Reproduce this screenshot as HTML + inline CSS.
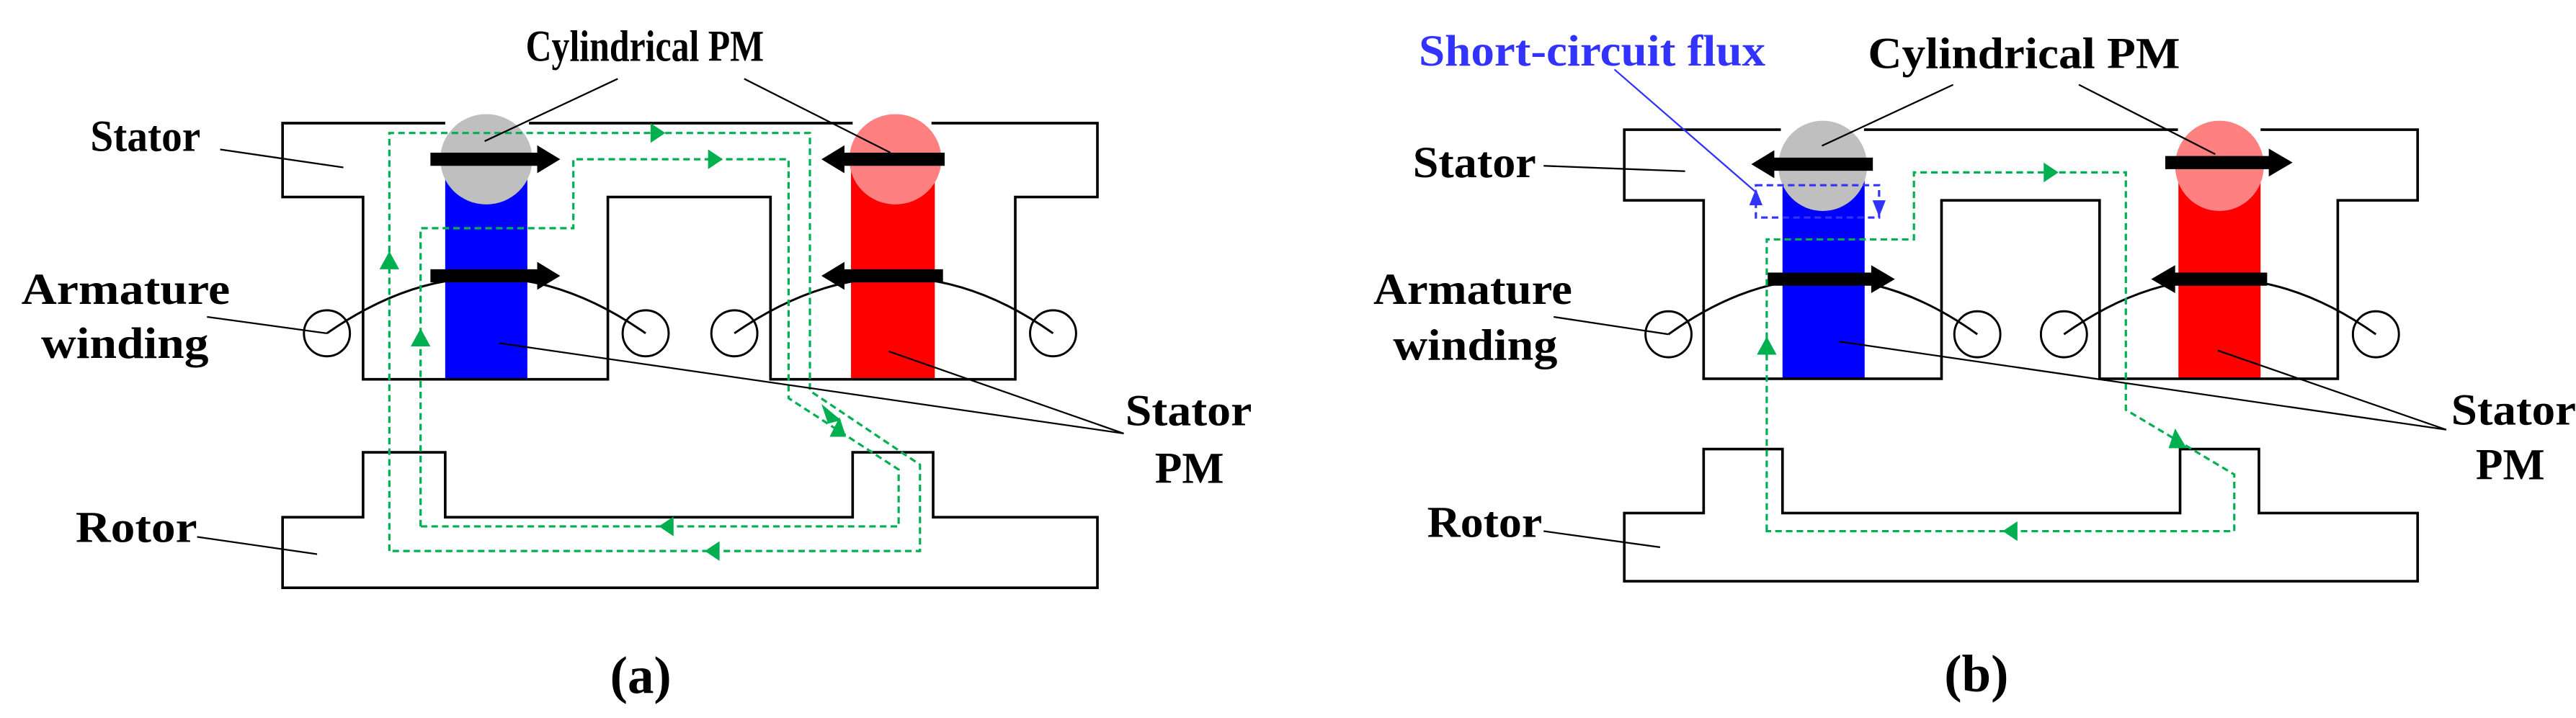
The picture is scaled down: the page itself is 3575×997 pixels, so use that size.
<!DOCTYPE html>
<html><head><meta charset="utf-8"><style>
html,body{margin:0;padding:0;background:#fff;}
svg{display:block;}
text{font-family:"Liberation Serif",serif;font-weight:bold;}
</style></head><body>
<svg width="3575" height="997" viewBox="0 0 1568 437.3" preserveAspectRatio="none" xmlns="http://www.w3.org/2000/svg">
<!-- ================= PANEL A ================= -->
<g>
<rect x="271" y="97" width="50" height="134" fill="#0000ff"/>
<rect x="518" y="97" width="51" height="134" fill="#ff0000"/>
<ellipse cx="296" cy="97" rx="28" ry="27.5" fill="#bfbfbf"/>
<ellipse cx="545" cy="97" rx="28" ry="27.5" fill="#ff8080"/>
<path d="M271,75 H172 V120 H221 V231 H370 V120 H469 V231 H618 V120 H668 V75 H567 M519,75 H322" fill="none" stroke="#000" stroke-width="1.6"/>
<path d="M172,315 H221 V275.5 H271 V315 H519 V275.5 H568 V315 H668 V358 H172 Z" fill="none" stroke="#000" stroke-width="1.6"/>
<path d="M262,93 H327 V88.5 L341,97 L327,105.5 V101 H262Z" fill="#000"/>
<path d="M262,164 H327 V159.5 L341,168 L327,176.5 V172 H262Z" fill="#000"/>
<path d="M575,93 H514 V88.5 L500,97 L514,105.5 V101 H575Z" fill="#000"/>
<path d="M574,164 H514 V159.5 L500,168 L514,176.5 V172 H574Z" fill="#000"/>
<g fill="none" stroke="#000" stroke-width="1.3">
<ellipse cx="199" cy="203" rx="14" ry="14"/>
<ellipse cx="393" cy="203" rx="14" ry="14"/>
<ellipse cx="447" cy="203" rx="14" ry="14"/>
<ellipse cx="641" cy="203" rx="14" ry="14"/>
<path d="M199,203 Q296,135 393,203"/>
<path d="M447,203 Q545,135 641,203"/>
</g>
<g fill="none" stroke="#00b050" stroke-width="1.4" stroke-dasharray="4,2.5">
<path d="M237,335.6 V81 H493 V238 L560,283 V335.6 Z"/>
<path d="M256,320.6 V139 H349 V97 H480 V242.5 L547,286 V320.6 Z"/>
</g>
<g fill="#00b050">
<path d="M396,75 L405,81 L396,87Z"/>
<path d="M431,91 L440,97 L431,103Z"/>
<path d="M231,164 L237,153 L243,164Z"/>
<path d="M250,211 L256,200 L262,211Z"/>
<path d="M410,314.6 L401,320.6 L410,326.6Z"/>
<path d="M438,329.6 L429,335.6 L438,341.6Z"/>
<path d="M500,246 L512,256 L504,258Z"/>
<path d="M505,266 L511,254 L515,266Z"/>
</g>
<g stroke="#000" stroke-width="1">
<line x1="376" y1="48" x2="295" y2="86"/>
<line x1="453" y1="48" x2="542" y2="93"/>
<line x1="134" y1="91" x2="209" y2="102"/>
<line x1="126" y1="193" x2="199" y2="203"/>
<line x1="684" y1="264" x2="304" y2="209"/>
<line x1="684" y1="264" x2="541" y2="214"/>
<line x1="120" y1="327" x2="193" y2="337.5"/>
</g>
<g font-size="27" fill="#000">
<text x="320" y="37" textLength="145" lengthAdjust="spacingAndGlyphs">Cylindrical PM</text>
<text x="55" y="92" textLength="67" lengthAdjust="spacingAndGlyphs">Stator</text>
<text x="13" y="185" textLength="127" lengthAdjust="spacingAndGlyphs">Armature</text>
<text x="25" y="218" textLength="102" lengthAdjust="spacingAndGlyphs">winding</text>
<text x="685" y="259" textLength="77" lengthAdjust="spacingAndGlyphs">Stator</text>
<text x="703" y="294" textLength="42" lengthAdjust="spacingAndGlyphs">PM</text>
<text x="46" y="330" textLength="74" lengthAdjust="spacingAndGlyphs">Rotor</text>
</g>
<text x="390" y="422" font-size="32" text-anchor="middle" font-weight="normal">(<tspan font-weight="bold">a</tspan>)</text>
</g>
<!-- ================= PANEL B ================= -->
<g>
<rect x="1085" y="101" width="50" height="130" fill="#0000ff"/>
<rect x="1326" y="101" width="50" height="130" fill="#ff0000"/>
<ellipse cx="1109.5" cy="101" rx="27" ry="27.5" fill="#bfbfbf"/>
<ellipse cx="1351" cy="101" rx="27" ry="27.5" fill="#ff8080"/>
<path d="M1084,79 H988.7 V122 H1037 V230.7 H1181.8 V122 H1278 V230.7 H1423 V122 H1471.6 V79 H1376 M1325.7,79 H1134.6" fill="none" stroke="#000" stroke-width="1.6"/>
<path d="M988.7,312.5 H1037 V273.5 H1085 V312.5 H1327 V273.5 H1375 V312.5 H1471.6 V354 H988.7 Z" fill="none" stroke="#000" stroke-width="1.6"/>
<path d="M1140,96 H1080 V91.5 L1066,100 L1080,108.5 V104 H1140Z" fill="#000"/>
<path d="M1318,95 H1381 V90.5 L1395.5,99 L1381,107.5 V103 H1318Z" fill="#000"/>
<path d="M1076,166 H1139 V161.5 L1153.4,170 L1139,178.5 V174 H1076Z" fill="#000"/>
<path d="M1380,166 H1324 V161.5 L1309.4,170 L1324,178.5 V174 H1380Z" fill="#000"/>
<g fill="none" stroke="#000" stroke-width="1.3">
<ellipse cx="1015.6" cy="203.6" rx="14" ry="14"/>
<ellipse cx="1203.6" cy="203.6" rx="14" ry="14"/>
<ellipse cx="1256.3" cy="203.6" rx="14" ry="14"/>
<ellipse cx="1446.2" cy="203.6" rx="14" ry="14"/>
<path d="M1015.6,203.6 Q1109.5,136 1203.6,203.6"/>
<path d="M1256.3,203.6 Q1351,136 1446.2,203.6"/>
</g>
<g fill="none" stroke="#00b050" stroke-width="1.4" stroke-dasharray="4,2.5">
<path d="M1075.4,323.5 V145.8 H1165 V105 H1294 V249.6 L1360,289 V323.5 Z"/>
</g>
<g fill="#00b050">
<path d="M1244,99 L1253,105 L1244,111Z"/>
<path d="M1069.4,216 L1075.4,205 L1081.4,216Z"/>
<path d="M1228,317.5 L1219,323.5 L1228,329.5Z"/>
<path d="M1320,273 L1324,261 L1331,273Z"/>
</g>
<rect x="1068.8" y="112.8" width="75" height="19.7" fill="none" stroke="#3333ff" stroke-width="1.4" stroke-dasharray="4,2.5"/>
<path d="M1064.8,125 L1068.8,115 L1072.8,125Z" fill="#3333ff"/>
<path d="M1139.8,122 L1143.8,132 L1147.8,122Z" fill="#3333ff"/>
<line x1="982.7" y1="42.3" x2="1068.8" y2="117" stroke="#3333ff" stroke-width="1"/>
<g stroke="#000" stroke-width="1">
<line x1="1188.9" y1="51.6" x2="1109" y2="88.8"/>
<line x1="1265.4" y1="51.6" x2="1348.4" y2="93.9"/>
<line x1="939.6" y1="101" x2="1025.7" y2="104.3"/>
<line x1="945.7" y1="193" x2="1015.6" y2="203.6"/>
<line x1="1489" y1="261.7" x2="1119.5" y2="208"/>
<line x1="1489" y1="261.7" x2="1350" y2="213.5"/>
<line x1="939.6" y1="323.5" x2="1010.5" y2="333.3"/>
</g>
<g font-size="27" fill="#000">
<text x="863.6" y="40" fill="#3333ff" textLength="211" lengthAdjust="spacingAndGlyphs">Short-circuit flux</text>
<text x="1137" y="41.5" textLength="190" lengthAdjust="spacingAndGlyphs">Cylindrical PM</text>
<text x="860" y="108" textLength="75" lengthAdjust="spacingAndGlyphs">Stator</text>
<text x="836" y="185" textLength="121" lengthAdjust="spacingAndGlyphs">Armature</text>
<text x="848" y="219" textLength="100" lengthAdjust="spacingAndGlyphs">winding</text>
<text x="1492" y="258.5" textLength="76" lengthAdjust="spacingAndGlyphs">Stator</text>
<text x="1507" y="292" textLength="42" lengthAdjust="spacingAndGlyphs">PM</text>
<text x="868.7" y="327" textLength="70" lengthAdjust="spacingAndGlyphs">Rotor</text>
</g>
<text x="1203" y="421" font-size="32" text-anchor="middle" font-weight="normal">(<tspan font-weight="bold">b</tspan>)</text>
</g>
</svg>
</body></html>
